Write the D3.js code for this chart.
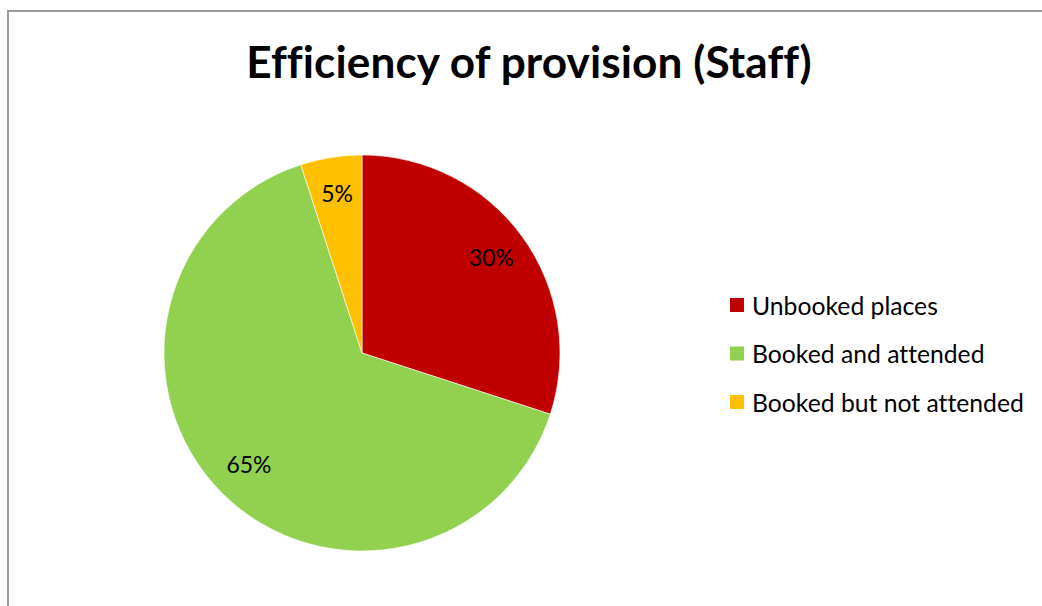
<!DOCTYPE html>
<html>
<head>
<meta charset="utf-8">
<script src="https://cdn.jsdelivr.net/npm/d3@7"></script>
<style>
html,body{margin:0;padding:0;background:#fff;overflow:hidden;}
svg{display:block;}
text{font-family:"Lato","Open Sans",sans-serif;font-variant-ligatures:none;font-feature-settings:"liga" 0,"clig" 0;}
</style>
</head>
<body>
<svg id="chart" width="1042" height="606"></svg>
<script>
const categories = ["Unbooked places", "Booked and attended", "Booked but not attended"];
const values = [30, 65, 5];
const labels = ["30%", "65%", "5%"];
const colors = ["#C00000", "#92D050", "#FFC000"];
const title = "Efficiency of provision (Staff)";

const svg = d3.select("#chart");

// chart border
svg.append("rect")
  .attr("x", 8).attr("y", 11)
  .attr("width", 1100).attr("height", 700)
  .attr("fill", "#fff")
  .attr("stroke", "#9a9a9a")
  .attr("stroke-width", 2);

// title
const t = svg.append("text")
  .attr("x", 529).attr("y", 78)
  .attr("text-anchor", "middle")
  .attr("font-weight", "bold")
  .attr("font-size", 40)
  .attr("letter-spacing", "0.1px")
  .style("letter-spacing", "0.1px")
  .attr("fill", "#000")
  .text(title);
(function(){
  const w = t.node().getComputedTextLength();
  t.attr("font-size", 40 * 566 / w);
})();

const cx = 362, cy = 353, r = 198;
const data = categories.map((c, i) => ({cat: c, value: values[i], label: labels[i], color: colors[i]}));

const pie = d3.pie().value(d => d.value).sort(null);
const arc = d3.arc().innerRadius(0).outerRadius(r);
const labelArc = d3.arc().innerRadius(160).outerRadius(160);

const g = svg.append("g").attr("transform", `translate(${cx},${cy})`);
const arcs = pie(data);

g.selectAll("path").data(arcs).join("path")
  .attr("d", arc)
  .attr("fill", d => d.data.color)
  .attr("stroke", "#fff")
  .attr("stroke-width", 0.6);

const lbl = g.selectAll("text.lbl").data(arcs).join("text")
  .attr("class", "lbl")
  .attr("transform", d => { const c = labelArc.centroid(d); return `translate(${c[0]},${c[1] - 2})`; })
  .attr("text-anchor", "middle")
  .attr("dominant-baseline", "central")
  .attr("font-size", 22)
  .attr("fill", "#000")
  .text(d => d.data.label);
(function(){
  const w = lbl.nodes()[0].getComputedTextLength();
  lbl.attr("font-size", 22 * 45 / w);
})();

// legend
const legend = svg.append("g");
const ly = d3.scalePoint().domain(categories).range([305, 402]);
const items = legend.selectAll("g").data(data).join("g")
  .attr("transform", d => `translate(730,${ly(d.cat)})`);
items.append("rect")
  .attr("x", 0).attr("y", -7)
  .attr("width", 14).attr("height", 14)
  .attr("fill", d => d.color);
const lt = items.append("text")
  .attr("x", 22).attr("y", 0)
  .attr("dominant-baseline", "central")
  .attr("font-size", 22)
  .attr("fill", "#000")
  .text(d => d.cat);
(function(){
  const w = lt.nodes()[2].getComputedTextLength();
  lt.attr("font-size", 22 * 272 / w);
})();
</script>
</body>
</html>
